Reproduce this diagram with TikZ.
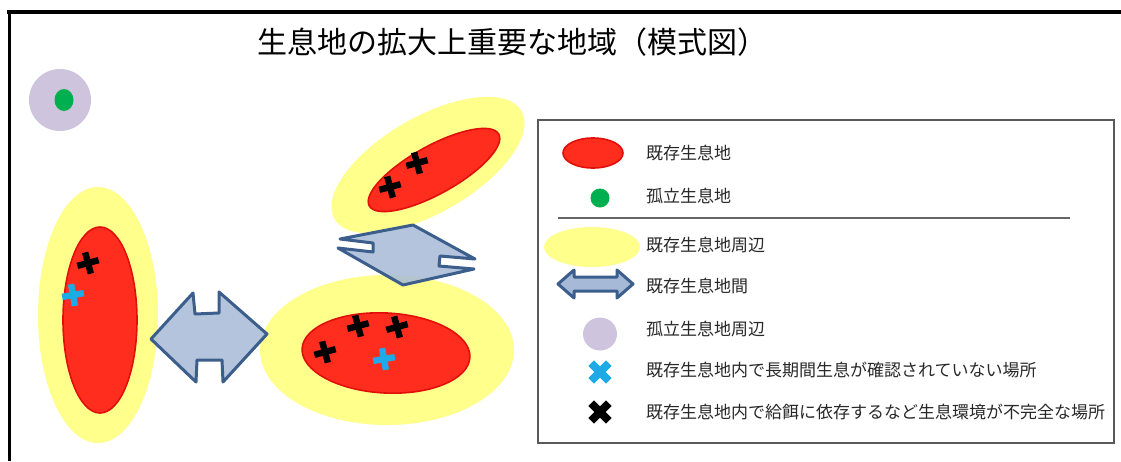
\documentclass[tikz,border=0pt]{standalone}
\usepackage{fontspec}
\setmainfont{Noto Sans CJK JP}
\definecolor{redfill}{RGB}{255,45,30}
\definecolor{redline}{RGB}{225,15,10}
\definecolor{yel}{RGB}{255,255,140}
\definecolor{lav}{RGB}{206,196,222}
\definecolor{grn}{RGB}{0,176,80}
\definecolor{cyn}{RGB}{30,170,230}
\definecolor{arrfill}{RGB}{166,186,215}
\definecolor{arrline}{RGB}{60,94,140}
\definecolor{txt}{RGB}{40,40,40}
\newcommand{\mkplus}[4]{%
  \begin{scope}[shift={(#1,#2)}, rotate=#3]
    \fill[#4] (-11,-3.2) rectangle (11,3.2);
    \fill[#4] (-3.2,-11) rectangle (3.2,11);
  \end{scope}}
\newcommand{\mkcross}[3]{%
  \begin{scope}[shift={(#1,#2)}, rotate=45]
    \fill[#3] (-12.5,-4) rectangle (12.5,4);
    \fill[#3] (-4,-12.5) rectangle (4,12.5);
  \end{scope}}
\begin{document}
\begin{tikzpicture}[x=1pt,y=-1pt,
  habitat/.style={fill=redfill, draw=redline, line width=1.6pt},
  around/.style={fill=yel},
  link/.style={fill=arrfill, fill opacity=0.85, draw=arrline, line width=3pt, line join=round},
  legtext/.style={anchor=west, font=\fontsize{17}{20}\selectfont, text=txt, inner sep=0pt},
  title/.style={font=\fontsize{30}{33}\selectfont, inner sep=0pt}]
\useasboundingbox (0,0) rectangle (1121,461);
\fill[white] (0,0) rectangle (1121,461);
% frame
\draw[line width=3.5pt] (7,12) -- (1121,12);
\draw[line width=3pt] (9,12) -- (9,461);
% title
\node[title] (title) at (512,42) {生息地の拡大上重要な地域（模式図）};
% isolated habitat
\fill[lav] (60,100) circle [radius=31];
\fill[grn] (64,100) ellipse [x radius=9.5, y radius=11];
% surroundings
\fill[around] (98,315) ellipse [x radius=60, y radius=128];
\fill[around, rotate around={30:(428,165)}] (428,165) ellipse [x radius=108, y radius=48];
\fill[around] (387,350) ellipse [x radius=127, y radius=75];
% habitats
\draw[habitat] (100,320) ellipse [x radius=37, y radius=93];
\draw[habitat, rotate around={29:(434,170)}] (434,170) ellipse [x radius=74, y radius=24];
\draw[habitat, rotate around={-3:(386,353)}] (386,353) ellipse [x radius=84, y radius=40];
% marks
\mkplus{88}{263}{15}{black}
\mkplus{73}{295}{10}{cyn}
\mkplus{417}{163}{15}{black}
\mkplus{390}{187}{15}{black}
\mkplus{325}{352}{15}{black}
\mkplus{358}{326}{15}{black}
\mkplus{397}{327}{15}{black}
\mkplus{384}{359}{10}{cyn}
% links
\draw[link] (151,339) -- (193,293) -- (195,314) -- (219,313) -- (219,292) -- (267,334)
  -- (223,382) -- (222,360) -- (197,360) -- (196,382) -- cycle;
\draw[link] (340,239) -- (413,225) -- (475,259) -- (440,256) -- (439,266) -- (474,269)
  -- (403,285) -- (338,248) -- (373,252) -- (373,243) -- cycle;
% legend
\draw[draw=black!65, line width=1.2pt, fill=white] (538,120) rectangle (1114,443);
\draw[habitat] (593,153) ellipse [x radius=30, y radius=15];
\node[legtext] (l1) at (646,153) {既存生息地};
\fill[grn] (600,198) circle [radius=9.5];
\node[legtext] (l2) at (646,196) {孤立生息地};
\draw[black!60, line width=1.2pt] (558,218) -- (1070,218);
\fill[around] (592,247) ellipse [x radius=48, y radius=20];
\node[legtext] (l3) at (646,245) {既存生息地周辺};
\draw[link, fill opacity=1] (558,284) -- (574,270) -- (574,277) -- (617,277) -- (617,270) -- (633,284)
  -- (617,298) -- (617,291) -- (574,291) -- (574,298) -- cycle;
\node[legtext] (l4) at (646,286) {既存生息地間};
\fill[lav] (600,334) ellipse [x radius=17, y radius=16.5];
\node[legtext] (l5) at (646,329) {孤立生息地周辺};
\mkcross{600}{372}{cyn}
\node[legtext] (l6) at (646,370) {既存生息地内で長期間生息が確認されていない場所};
\mkcross{600}{412}{black}
\node[legtext] (l7) at (646,412) {既存生息地内で給餌に依存するなど生息環境が不完全な場所};
\end{tikzpicture}
\end{document}
